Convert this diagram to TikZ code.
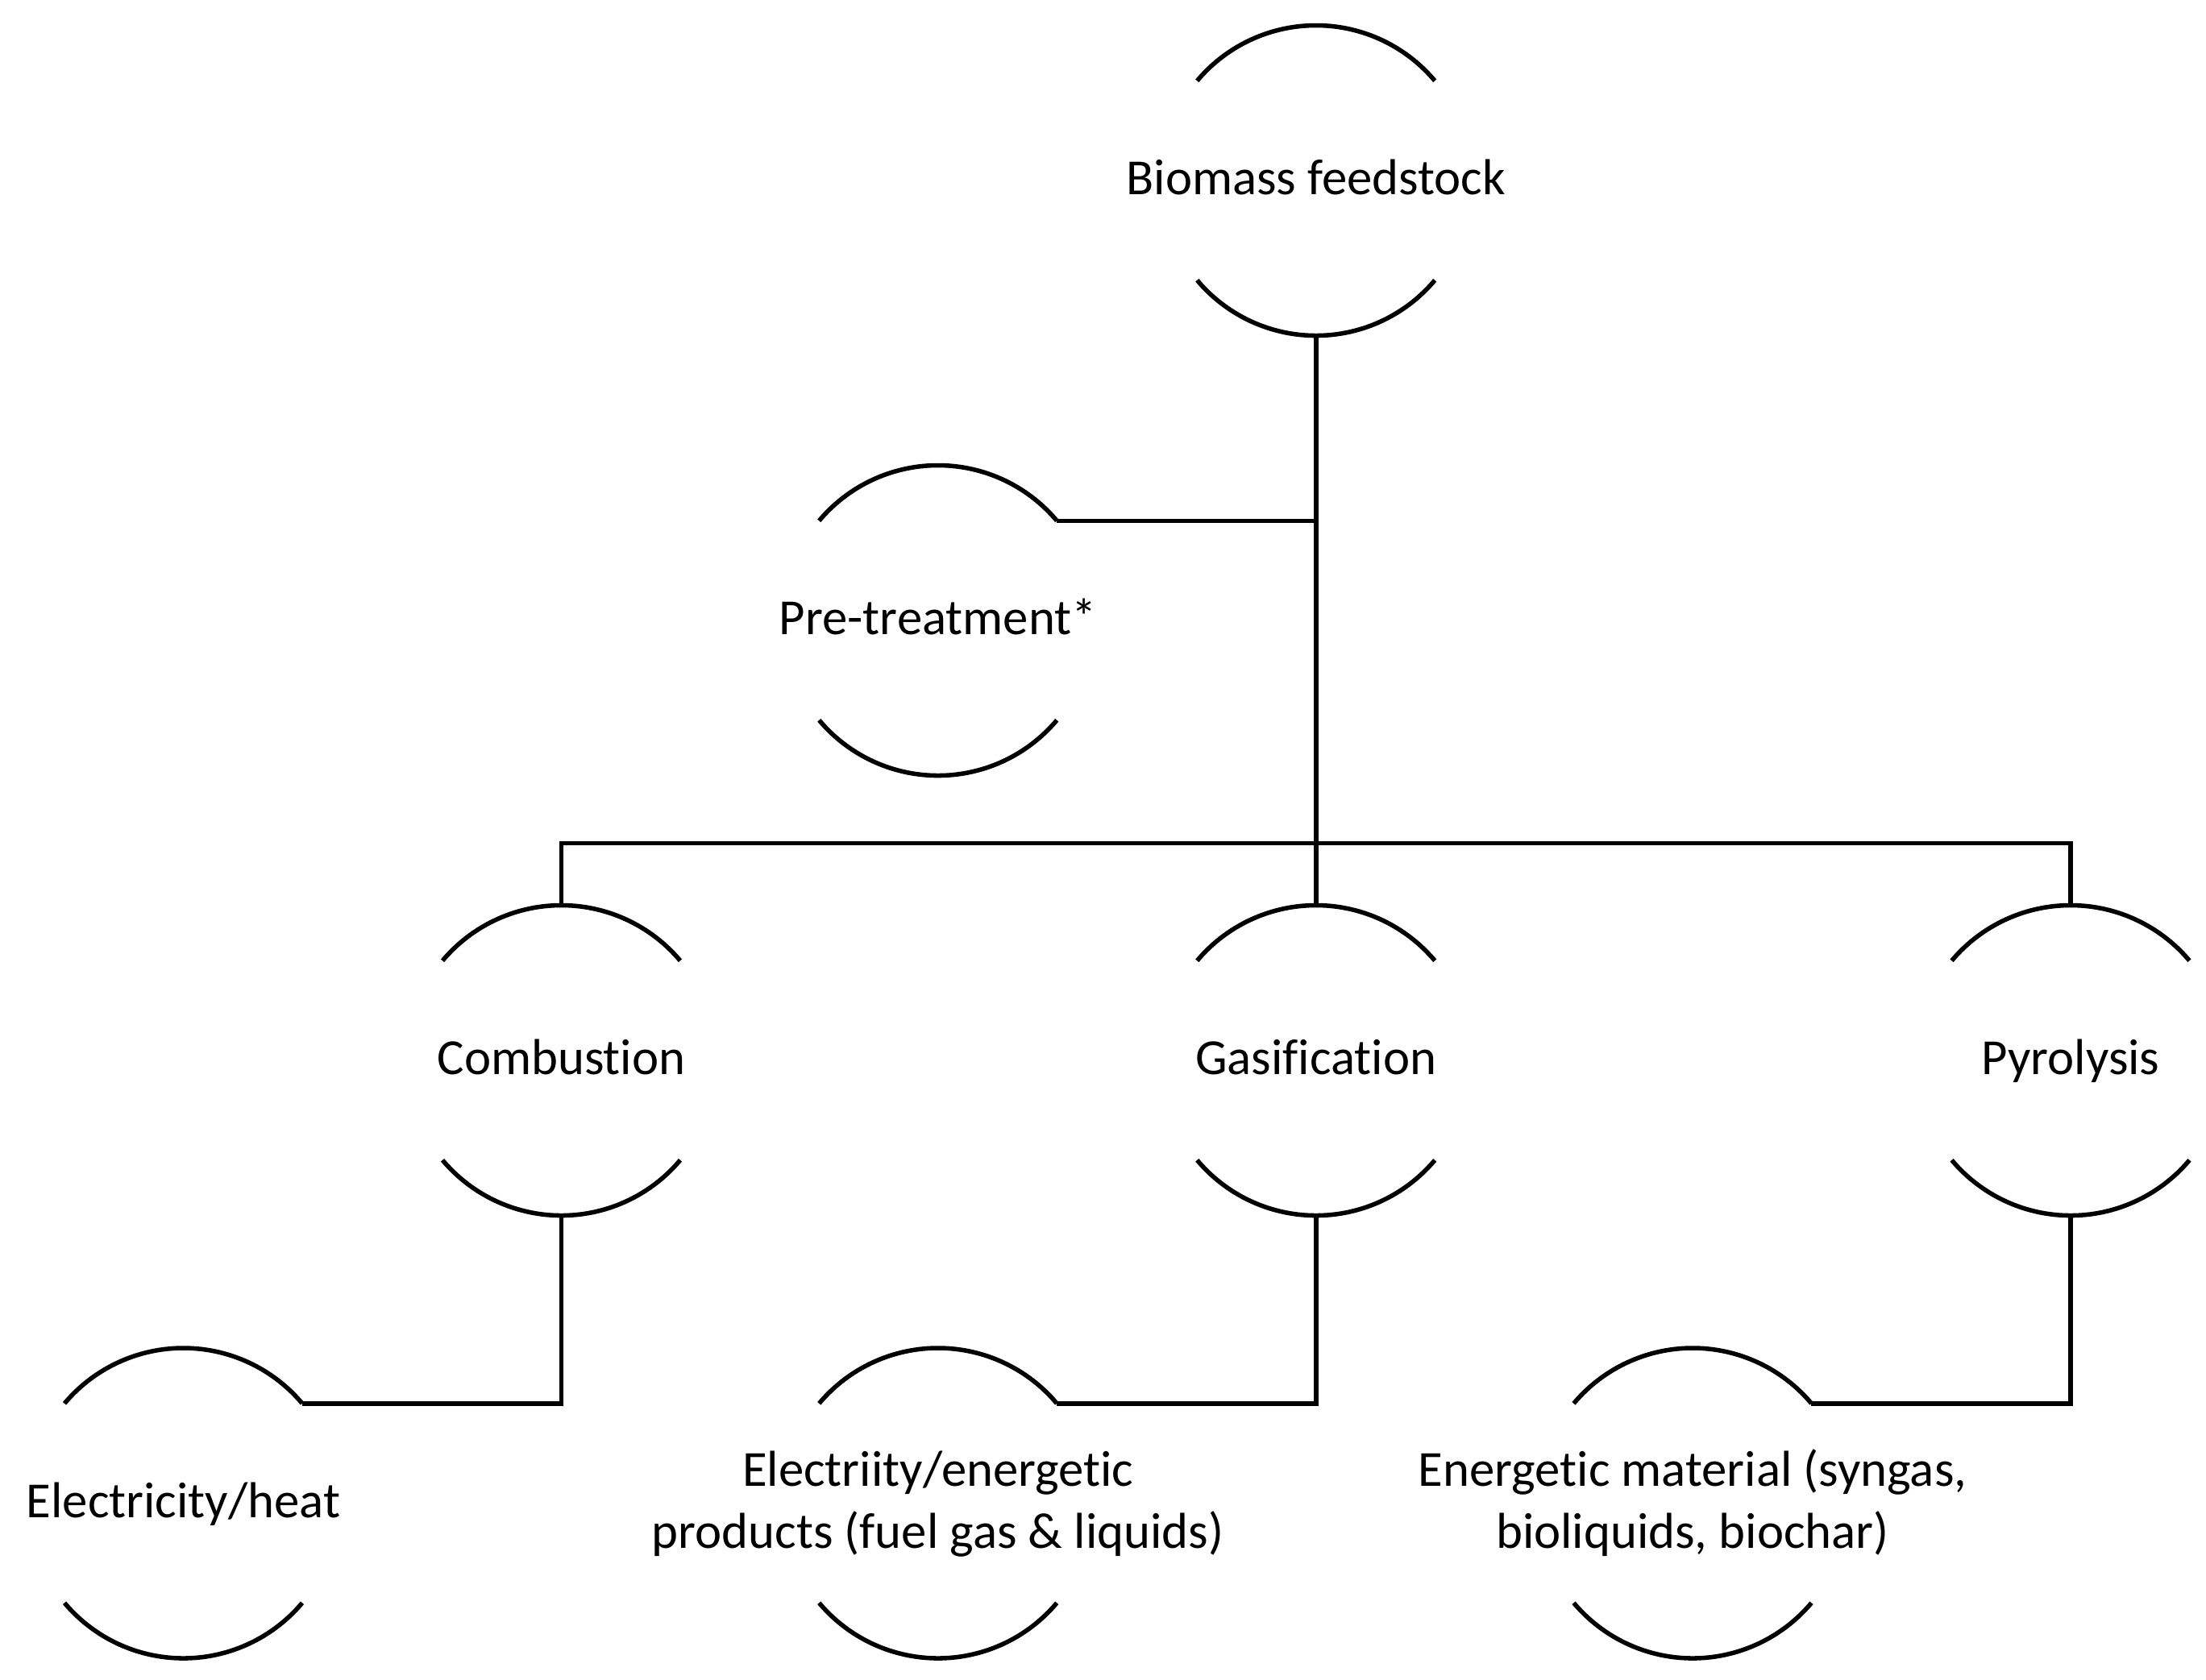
\documentclass[tikz,border=0pt]{standalone}
\usepackage{fontspec}
\setmainfont{Carlito}[Ligatures=NoCommon]
\usepackage{tikz}

\tikzset{
  stage/.style={shape=circle,minimum size=2.2cm,inner sep=0pt,outer sep=0pt},
  link/.style={draw,line width=0.9pt}
}
\newcommand{\stagetext}[1]{\smash{\makebox[0pt]{\raisebox{-1mm}{\begin{tabular}{@{}c@{}}#1\end{tabular}}}}}

\begin{document}
\begin{tikzpicture}[font=\fontsize{10.2}{12.6}\selectfont]
	\useasboundingbox (0,0) rectangle (15.64,-11.91);

	\node[stage] (bio) at (9.33,-1.28)  {\stagetext{Biomass feedstock}};
	\node[stage] (pre) at (6.65,-4.40)  {\stagetext{Pre-treatment*}};
	\node[stage] (com) at (3.98,-7.52)  {\stagetext{Combustion}};
	\node[stage] (gas) at (9.33,-7.52)  {\stagetext{Gasification}};
	\node[stage] (pyr) at (14.68,-7.52) {\stagetext{Pyrolysis}};
	\node[stage] (ele) at (1.30,-10.66) {\stagetext{Electricity/heat}};
	\node[stage] (epr) at (6.65,-10.66) {\stagetext{Electriity/energetic\\products (fuel gas \& liquids)}};
	\node[stage] (ema) at (12.00,-10.66) {\stagetext{Energetic material (syngas,\\bioliquids, biochar)}};

	% open arcs above and below each stage
	\foreach \n in {bio,pre,com,gas,pyr,ele,epr,ema}
		\draw[line width=0.9pt] (\n.40) arc (40:140:1.1cm) (\n.220) arc (220:320:1.1cm);

	\coordinate (split) at (9.33,-5.98);

	\path[link] (bio.south) -- (split);
	\path[link] (pre.40) -- (pre.40 -| bio.south);
	\path[link] (com.north) |- (split) -| (pyr.north);
	\path[link] (split) -- (gas.north);
	\path[link] (com.south) |- (ele.40);
	\path[link] (gas.south) |- (epr.40);
	\path[link] (pyr.south) |- (ema.40);

\end{tikzpicture}
\end{document}
